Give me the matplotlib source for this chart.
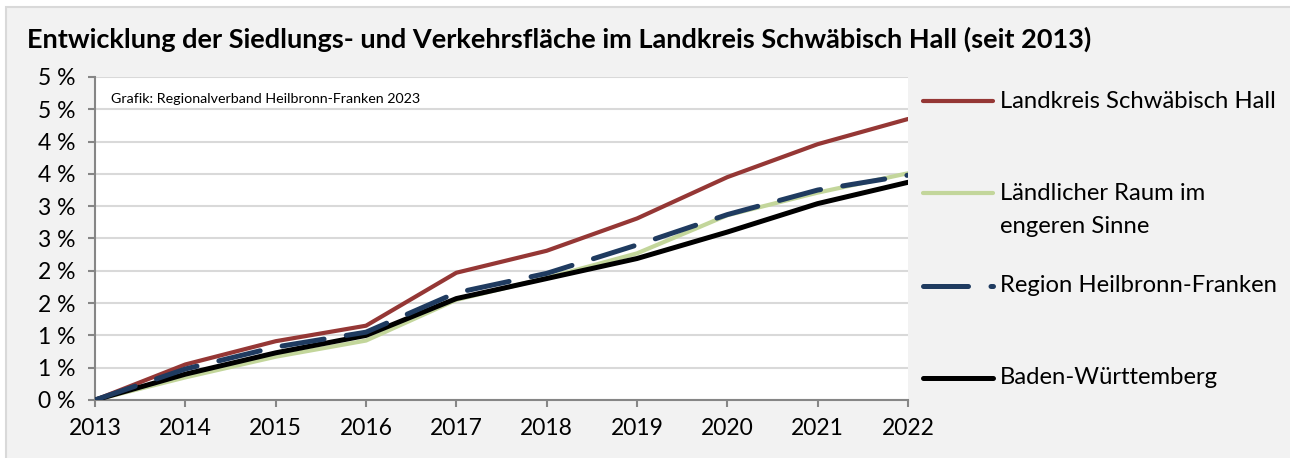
import numpy as np
import matplotlib.pyplot as plt
from matplotlib.patches import Rectangle
from matplotlib.lines import Line2D
from matplotlib.ticker import FuncFormatter, MultipleLocator

plt.rcParams["font.family"] = ["Lato", "DejaVu Sans"]

years = [2013, 2014, 2015, 2016, 2017, 2018, 2019, 2020, 2021, 2022]

# Zuwachs der Siedlungs- und Verkehrsfläche gegenüber 2013 in %
sha = [0.0, 0.55, 0.91, 1.15, 1.97, 2.31, 2.81, 3.45, 3.96, 4.35]
laendlich = [0.0, 0.35, 0.67, 0.92, 1.55, 1.89, 2.27, 2.86, 3.21, 3.51]
region_hnf = [0.0, 0.48, 0.82, 1.05, 1.66, 1.96, 2.40, 2.87, 3.25, 3.48]
bw = [0.0, 0.40, 0.73, 1.00, 1.57, 1.88, 2.19, 2.60, 3.04, 3.37]

labels = ["Landkreis Schwäbisch Hall", "Ländlicher Raum im\nengeren Sinne",
          "Region Heilbronn-Franken", "Baden-Württemberg"]
title = "Entwicklung der Siedlungs- und Verkehrsfläche im Landkreis Schwäbisch Hall (seit 2013)"
source = "Grafik: Regionalverband Heilbronn-Franken 2023"

c_red = "#953735"
c_green = "#c3d69b"
c_navy = "#1f3b60"
c_black = "#000000"

W, H = 1290, 458
fig = plt.figure(figsize=(W / 100, H / 100), dpi=100, facecolor="white")

# grauer Rahmen um die Grafik
fig.patches.append(Rectangle((6 / W, -0.01), 1.02, (H - 6.5) / H + 0.01,
                             transform=fig.transFigure, facecolor="#f2f2f2",
                             edgecolor="#d9d9d9", linewidth=1.5, zorder=-10))

# Plotbereich: x 95..908 px, y 77..400 px
ax = fig.add_axes([95 / W, (H - 400) / H, (908 - 95) / W, (400 - 77) / H])
ax.set_facecolor("white")

ax.plot(years, sha, color=c_red, lw=3.0, solid_capstyle="round", zorder=3)
ax.plot(years, laendlich, color=c_green, lw=3.0, solid_capstyle="round", zorder=2)
ax.plot(years, region_hnf, color=c_navy, lw=3.6, dashes=(8.5, 4.5),
        dash_capstyle="round", zorder=4)
ax.plot(years, bw, color=c_black, lw=3.6, solid_capstyle="round", zorder=3)

ax.set_xlim(2013, 2022)
ax.set_ylim(0, 5)
ax.set_xticks(years)
ax.yaxis.set_major_locator(MultipleLocator(0.5))
ax.yaxis.set_major_formatter(FuncFormatter(lambda v, p: f"{int(np.floor(v + 0.5))} %"))
ax.grid(axis="y", color="#d9d9d9", lw=1.5, zorder=0)
ax.set_axisbelow(True)

for s in ["top", "right"]:
    ax.spines[s].set_visible(False)
for s in ["left", "bottom"]:
    ax.spines[s].set_color("#868686")
    ax.spines[s].set_linewidth(1.5)
ax.tick_params(axis="both", colors="#868686", width=1.5, length=5, labelcolor="black")
ax.tick_params(axis="x", labelsize=16.5, pad=8)
ax.tick_params(axis="y", labelsize=16.5, pad=9)

fig.text(111 / W, (H - 99) / H, source, fontsize=10.3, va="center", ha="left")

fig.text(27 / W, (H - 39) / H, title, fontsize=19.5, fontweight="bold",
         va="center", ha="left")

# Legende rechts neben dem Plot
leg_y = [101, 193, 286, 378]
styles = [dict(color=c_red, lw=3.0), dict(color=c_green, lw=3.0),
          dict(color=c_navy, lw=3.6, dashes=(9, 4.5)), dict(color=c_black, lw=3.6)]
for y, lab, st in zip(leg_y, labels, styles):
    ln = Line2D([923 / W, 993 / W], [(H - y) / H] * 2, transform=fig.transFigure,
                solid_capstyle="round", dash_capstyle="round", **st)
    fig.lines.append(ln)
    if "\n" in lab:
        fig.text(1000 / W, (H - y + 10) / H, lab, fontsize=17.2, va="top",
                 ha="left", linespacing=1.68)
    else:
        fig.text(1000 / W, (H - y) / H, lab, fontsize=17.2, va="center", ha="left")

fig.savefig("out.png", dpi=100, facecolor=fig.get_facecolor())
